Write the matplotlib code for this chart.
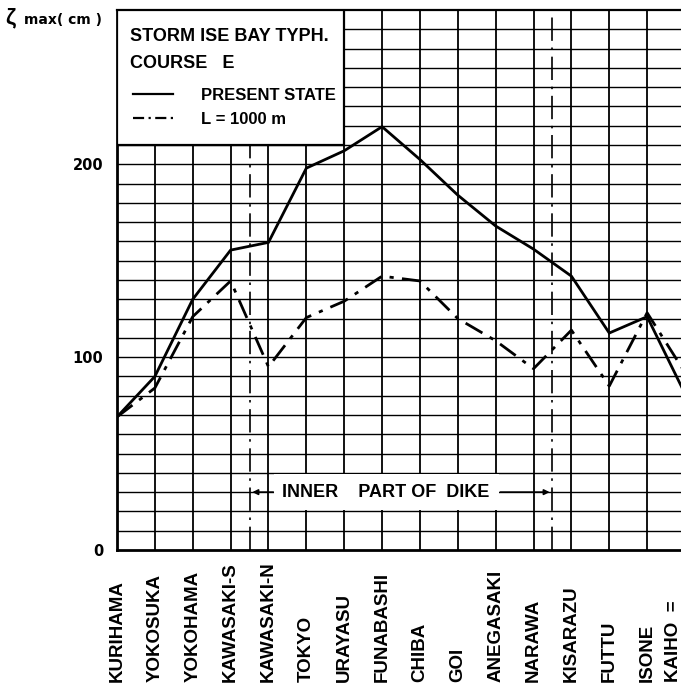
import matplotlib
matplotlib.use("Agg")
import matplotlib.pyplot as plt
import matplotlib.transforms as mtransforms
from matplotlib.patches import Rectangle
from matplotlib.lines import Line2D

plt.rcParams["font.family"] = ["Liberation Sans", "DejaVu Sans"]
plt.rcParams["font.weight"] = "bold"

# stations along the bay, left to right
stations = ["KURIHAMA", "YOKOSUKA", "YOKOHAMA", "KAWASAKI-S", "KAWASAKI-N",
            "TOKYO", "URAYASU", "FUNABASHI", "CHIBA", "GOI", "ANEGASAKI",
            "NARAWA", "KISARAZU", "FUTTU", "ISONE", "KAIHO  ="]

# max storm surge (cm)
present_state = [69, 90, 130, 155.5, 159.5, 198, 207, 219.5, 202.5, 184,
                 168, 156, 142, 112.5, 121, 81]
dike_1000m = [69, 84, 121, 139.5, 95, 120.5, 129, 142, 139.5, 120,
              108.5, 94, 114, 85, 123, 92]

y_ticks = [0, 100, 200]
dike_ends = [3.5, 11.5]   # dike lies between these stations

W, H = 681, 690
fig = plt.figure(figsize=(W / 100, H / 100), dpi=100)
ax = fig.add_axes([117 / W, 140 / H, 568 / W, 540 / H])

x = list(range(len(stations)))
ax.set_xlim(0, len(stations) - 1)
ax.set_ylim(0, 280)

# graph paper grid
for v in range(10, 280, 10):
    ax.axhline(v, color="black", lw=1.0, zorder=1)
for xi in x[1:]:
    ax.axvline(xi, color="black", lw=1.3, zorder=1)
for d in dike_ends:
    ax.axvline(d, color="black", lw=1.2, ls=(0, (14, 4, 1.5, 4)), zorder=1.2)

for s in ["left", "bottom"]:
    ax.spines[s].set_linewidth(2.0)
ax.spines["top"].set_linewidth(1.6)

ax.plot(x, present_state, color="black", lw=2.0, zorder=2.5,
        solid_joinstyle="miter")
ax.plot(x, dike_1000m, color="black", lw=2.0, ls=(0, (7, 3, 1.5, 3)), zorder=2.5)

ax.set_yticks(y_ticks)
ax.set_yticklabels([str(t) for t in y_ticks], fontsize=10.5, fontweight="bold",
                   family="DejaVu Sans")
ax.tick_params(axis="y", length=0, pad=10)
ax.set_xticks([])

# station names under the axis
trans = mtransforms.blended_transform_factory(ax.transData, ax.transAxes)
for i, name in enumerate(stations):
    xi = i - 0.3 if i == len(stations) - 1 else i
    ax.text(xi, -0.2444, name, rotation=90, ha="center", va="bottom",
            fontsize=13.5, fontweight="bold", transform=trans)

# legend box
ax.add_patch(Rectangle((0, 210), 6, 70, facecolor="white", edgecolor="black",
                       lw=1.6, zorder=3))
ax.text(0.34, 266.5, "STORM ISE BAY TYPH.", fontsize=13, fontweight="bold",
        va="center", ha="left", zorder=4)
ax.text(0.34, 252.5, "COURSE   E", fontsize=13, fontweight="bold",
        va="center", ha="left", zorder=4)
handles = [Line2D([], [], color="black", lw=1.6),
           Line2D([], [], color="black", lw=1.6, ls=(0, (5, 2, 1, 2)))]
leg = ax.legend(handles, ["PRESENT STATE", "L = 1000 m"], frameon=False,
                loc="upper left", bbox_to_anchor=(0.42, 239.5),
                bbox_transform=ax.transData, borderpad=0, borderaxespad=0,
                handlelength=2.4, handletextpad=1.7, labelspacing=0.55,
                prop={"size": 12, "weight": "bold"})
leg.set_zorder(5)

# inner part of dike marker
ax.add_patch(Rectangle((4.15, 20.6), 5.95, 18.8, facecolor="white",
                       edgecolor="none", zorder=1.6))
ax.text(7.1, 30, "INNER    PART OF  DIKE", ha="center", va="center",
        fontsize=13, fontweight="bold", zorder=4)
ax.annotate("", xy=(dike_ends[0], 30), xytext=(4.2, 30),
            arrowprops=dict(arrowstyle="-|>", lw=1.2, color="black",
                            mutation_scale=8), zorder=4)
ax.annotate("", xy=(dike_ends[1], 30), xytext=(10.05, 30),
            arrowprops=dict(arrowstyle="-|>", lw=1.2, color="black",
                            mutation_scale=8), zorder=4)

# axis title, zeta max
fig.text(5 / W, 1 - 18 / H, "ζ", fontsize=16, fontweight="bold", va="center")
fig.text(24 / W, 1 - 20 / H, "max( cm )", fontsize=10, fontweight="bold",
         va="center", family="DejaVu Sans")

fig.savefig("out.png", dpi=100)
